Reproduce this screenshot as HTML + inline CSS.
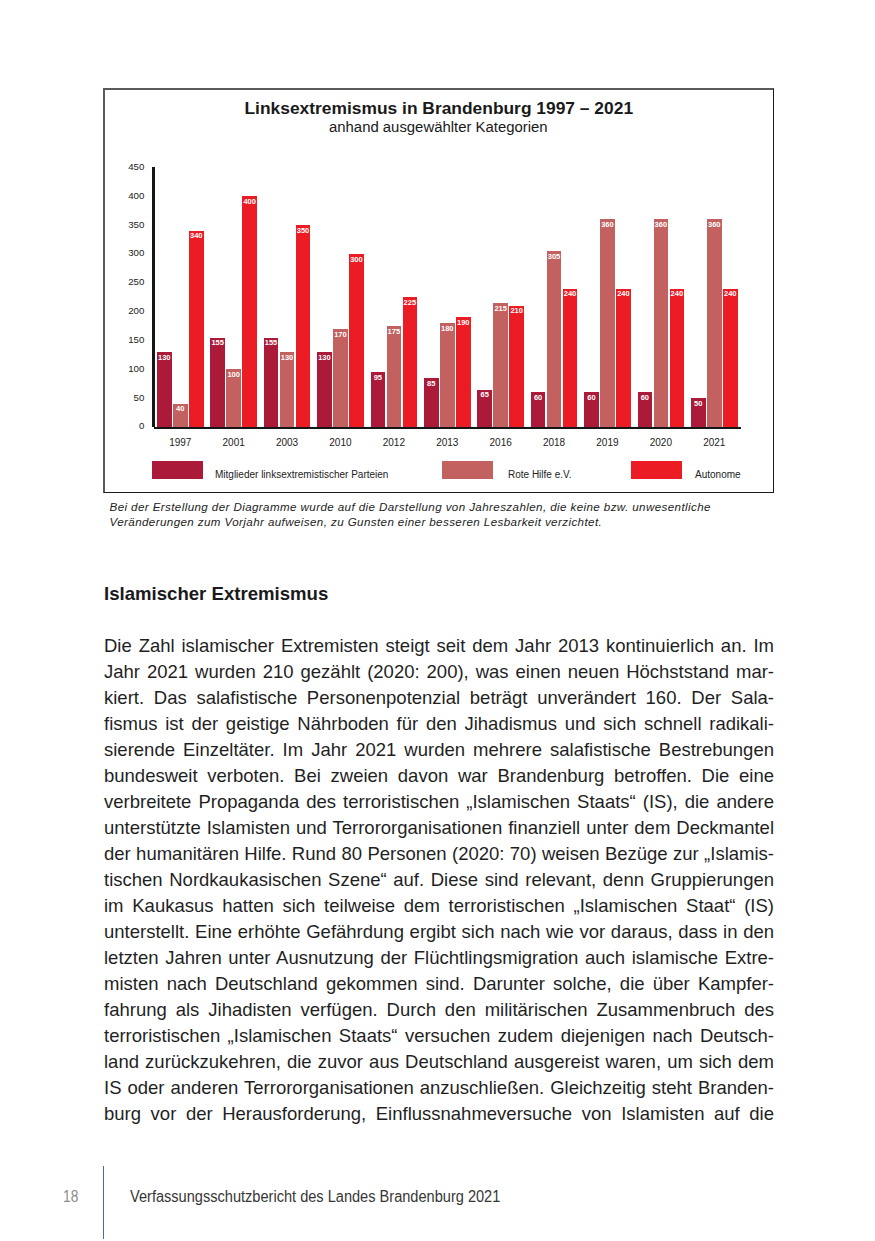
<!DOCTYPE html>
<html lang="de">
<head>
<meta charset="utf-8">
<title>Verfassungsschutzbericht 2021 - Seite 18</title>
<style>
html,body{margin:0;padding:0;background:#fff;}
body{width:875px;height:1241px;position:relative;overflow:hidden;font-family:"Liberation Sans",sans-serif;color:#1f1f1f;}
.abs{position:absolute;white-space:nowrap;}
.bar{position:absolute;}
.b1{background:#ab1a39;}
.b2{background:#c2615f;}
.b3{background:#ec1c24;}
.v{position:absolute;left:0;right:0;text-align:center;font-weight:bold;color:#fff;white-space:nowrap;}
.ln{position:absolute;white-space:nowrap;text-align:justify;text-align-last:justify;}
</style>
</head>
<body>
<div style="position:absolute;left:103px;top:88px;width:667.5px;height:401.5px;border-top:2px solid #5a5a5a;border-left:2px solid #5a5a5a;border-right:1.5px solid #1c1c1c;border-bottom:1.5px solid #1c1c1c;"></div>
<div class="abs " style="left:244.50px;top:97.53px;font-size:17.4px;line-height:20.880px;font-weight:bold;color:#1a1a1a;">Linksextremismus in Brandenburg 1997 – 2021</div>
<div class="abs " style="left:329.00px;top:118.69px;font-size:14.9px;line-height:17.880px;color:#1a1a1a;">anhand ausgewählter Kategorien</div>
<div class="abs " style="left:114.30px;width:30px;text-align:right;top:420.42px;font-size:9.7px;line-height:11.640px;color:#222;">0</div>
<div class="abs " style="left:114.30px;width:30px;text-align:right;top:391.59px;font-size:9.7px;line-height:11.640px;color:#222;">50</div>
<div class="abs " style="left:114.30px;width:30px;text-align:right;top:362.77px;font-size:9.7px;line-height:11.640px;color:#222;">100</div>
<div class="abs " style="left:114.30px;width:30px;text-align:right;top:333.94px;font-size:9.7px;line-height:11.640px;color:#222;">150</div>
<div class="abs " style="left:114.30px;width:30px;text-align:right;top:305.12px;font-size:9.7px;line-height:11.640px;color:#222;">200</div>
<div class="abs " style="left:114.30px;width:30px;text-align:right;top:276.29px;font-size:9.7px;line-height:11.640px;color:#222;">250</div>
<div class="abs " style="left:114.30px;width:30px;text-align:right;top:247.47px;font-size:9.7px;line-height:11.640px;color:#222;">300</div>
<div class="abs " style="left:114.30px;width:30px;text-align:right;top:218.64px;font-size:9.7px;line-height:11.640px;color:#222;">350</div>
<div class="abs " style="left:114.30px;width:30px;text-align:right;top:189.82px;font-size:9.7px;line-height:11.640px;color:#222;">400</div>
<div class="abs " style="left:114.30px;width:30px;text-align:right;top:160.99px;font-size:9.7px;line-height:11.640px;color:#222;">450</div>
<div class="bar b1" style="left:157.00px;top:352.06px;width:14.5px;height:74.95px;"><div class="v" style="top:1.5px;font-size:7.5px;line-height:8px;">130</div></div>
<div class="bar b2" style="left:173.00px;top:403.94px;width:14.5px;height:23.06px;"><div class="v" style="top:1.5px;font-size:7.5px;line-height:8px;">40</div></div>
<div class="bar b3" style="left:189.00px;top:230.99px;width:14.5px;height:196.01px;"><div class="v" style="top:1.5px;font-size:7.5px;line-height:8px;">340</div></div>
<div class="abs " style="left:160.25px;width:40px;text-align:center;top:436.53px;font-size:10px;line-height:12.000px;color:#222;">1997</div>
<div class="bar b1" style="left:210.40px;top:337.64px;width:14.5px;height:89.36px;"><div class="v" style="top:1.5px;font-size:7.5px;line-height:8px;">155</div></div>
<div class="bar b2" style="left:226.40px;top:369.35px;width:14.5px;height:57.65px;"><div class="v" style="top:1.5px;font-size:7.5px;line-height:8px;">100</div></div>
<div class="bar b3" style="left:242.40px;top:196.40px;width:14.5px;height:230.60px;"><div class="v" style="top:1.5px;font-size:7.5px;line-height:8px;">400</div></div>
<div class="abs " style="left:213.65px;width:40px;text-align:center;top:436.53px;font-size:10px;line-height:12.000px;color:#222;">2001</div>
<div class="bar b1" style="left:263.80px;top:337.64px;width:14.5px;height:89.36px;"><div class="v" style="top:1.5px;font-size:7.5px;line-height:8px;">155</div></div>
<div class="bar b2" style="left:279.80px;top:352.06px;width:14.5px;height:74.95px;"><div class="v" style="top:1.5px;font-size:7.5px;line-height:8px;">130</div></div>
<div class="bar b3" style="left:295.80px;top:225.22px;width:14.5px;height:201.78px;"><div class="v" style="top:1.5px;font-size:7.5px;line-height:8px;">350</div></div>
<div class="abs " style="left:267.05px;width:40px;text-align:center;top:436.53px;font-size:10px;line-height:12.000px;color:#222;">2003</div>
<div class="bar b1" style="left:317.20px;top:352.06px;width:14.5px;height:74.95px;"><div class="v" style="top:1.5px;font-size:7.5px;line-height:8px;">130</div></div>
<div class="bar b2" style="left:333.20px;top:329.00px;width:14.5px;height:98.00px;"><div class="v" style="top:1.5px;font-size:7.5px;line-height:8px;">170</div></div>
<div class="bar b3" style="left:349.20px;top:254.05px;width:14.5px;height:172.95px;"><div class="v" style="top:1.5px;font-size:7.5px;line-height:8px;">300</div></div>
<div class="abs " style="left:320.45px;width:40px;text-align:center;top:436.53px;font-size:10px;line-height:12.000px;color:#222;">2010</div>
<div class="bar b1" style="left:370.60px;top:372.23px;width:14.5px;height:54.77px;"><div class="v" style="top:1.5px;font-size:7.5px;line-height:8px;">95</div></div>
<div class="bar b2" style="left:386.60px;top:326.11px;width:14.5px;height:100.89px;"><div class="v" style="top:1.5px;font-size:7.5px;line-height:8px;">175</div></div>
<div class="bar b3" style="left:402.60px;top:297.29px;width:14.5px;height:129.71px;"><div class="v" style="top:1.5px;font-size:7.5px;line-height:8px;">225</div></div>
<div class="abs " style="left:373.85px;width:40px;text-align:center;top:436.53px;font-size:10px;line-height:12.000px;color:#222;">2012</div>
<div class="bar b1" style="left:424.00px;top:378.00px;width:14.5px;height:49.00px;"><div class="v" style="top:1.5px;font-size:7.5px;line-height:8px;">85</div></div>
<div class="bar b2" style="left:440.00px;top:323.23px;width:14.5px;height:103.77px;"><div class="v" style="top:1.5px;font-size:7.5px;line-height:8px;">180</div></div>
<div class="bar b3" style="left:456.00px;top:317.47px;width:14.5px;height:109.53px;"><div class="v" style="top:1.5px;font-size:7.5px;line-height:8px;">190</div></div>
<div class="abs " style="left:427.25px;width:40px;text-align:center;top:436.53px;font-size:10px;line-height:12.000px;color:#222;">2013</div>
<div class="bar b1" style="left:477.40px;top:389.53px;width:14.5px;height:37.47px;"><div class="v" style="top:1.5px;font-size:7.5px;line-height:8px;">65</div></div>
<div class="bar b2" style="left:493.40px;top:303.05px;width:14.5px;height:123.95px;"><div class="v" style="top:1.5px;font-size:7.5px;line-height:8px;">215</div></div>
<div class="bar b3" style="left:509.40px;top:305.94px;width:14.5px;height:121.06px;"><div class="v" style="top:1.5px;font-size:7.5px;line-height:8px;">210</div></div>
<div class="abs " style="left:480.65px;width:40px;text-align:center;top:436.53px;font-size:10px;line-height:12.000px;color:#222;">2016</div>
<div class="bar b1" style="left:530.80px;top:392.41px;width:14.5px;height:34.59px;"><div class="v" style="top:1.5px;font-size:7.5px;line-height:8px;">60</div></div>
<div class="bar b2" style="left:546.80px;top:251.17px;width:14.5px;height:175.83px;"><div class="v" style="top:1.5px;font-size:7.5px;line-height:8px;">305</div></div>
<div class="bar b3" style="left:562.80px;top:288.64px;width:14.5px;height:138.36px;"><div class="v" style="top:1.5px;font-size:7.5px;line-height:8px;">240</div></div>
<div class="abs " style="left:534.05px;width:40px;text-align:center;top:436.53px;font-size:10px;line-height:12.000px;color:#222;">2018</div>
<div class="bar b1" style="left:584.20px;top:392.41px;width:14.5px;height:34.59px;"><div class="v" style="top:1.5px;font-size:7.5px;line-height:8px;">60</div></div>
<div class="bar b2" style="left:600.20px;top:219.46px;width:14.5px;height:207.54px;"><div class="v" style="top:1.5px;font-size:7.5px;line-height:8px;">360</div></div>
<div class="bar b3" style="left:616.20px;top:288.64px;width:14.5px;height:138.36px;"><div class="v" style="top:1.5px;font-size:7.5px;line-height:8px;">240</div></div>
<div class="abs " style="left:587.45px;width:40px;text-align:center;top:436.53px;font-size:10px;line-height:12.000px;color:#222;">2019</div>
<div class="bar b1" style="left:637.60px;top:392.41px;width:14.5px;height:34.59px;"><div class="v" style="top:1.5px;font-size:7.5px;line-height:8px;">60</div></div>
<div class="bar b2" style="left:653.60px;top:219.46px;width:14.5px;height:207.54px;"><div class="v" style="top:1.5px;font-size:7.5px;line-height:8px;">360</div></div>
<div class="bar b3" style="left:669.60px;top:288.64px;width:14.5px;height:138.36px;"><div class="v" style="top:1.5px;font-size:7.5px;line-height:8px;">240</div></div>
<div class="abs " style="left:640.85px;width:40px;text-align:center;top:436.53px;font-size:10px;line-height:12.000px;color:#222;">2020</div>
<div class="bar b1" style="left:691.00px;top:398.18px;width:14.5px;height:28.82px;"><div class="v" style="top:1.5px;font-size:7.5px;line-height:8px;">50</div></div>
<div class="bar b2" style="left:707.00px;top:219.46px;width:14.5px;height:207.54px;"><div class="v" style="top:1.5px;font-size:7.5px;line-height:8px;">360</div></div>
<div class="bar b3" style="left:723.00px;top:288.64px;width:14.5px;height:138.36px;"><div class="v" style="top:1.5px;font-size:7.5px;line-height:8px;">240</div></div>
<div class="abs " style="left:694.25px;width:40px;text-align:center;top:436.53px;font-size:10px;line-height:12.000px;color:#222;">2021</div>
<div style="position:absolute;left:152px;top:167px;width:3px;height:260px;background:#161616;"></div>
<div style="position:absolute;left:154px;top:426.5px;width:587px;height:2.5px;background:#161616;"></div>
<div class="bar b1" style="left:152px;top:461px;width:51px;height:17.5px;"></div>
<div class="abs " style="left:215.00px;top:468.83px;font-size:10px;line-height:12.000px;color:#222;">Mitglieder linksextremistischer Parteien</div>
<div class="bar b2" style="left:442px;top:461px;width:51px;height:17.5px;"></div>
<div class="abs " style="left:508.00px;top:468.83px;font-size:10px;line-height:12.000px;color:#222;">Rote Hilfe e.V.</div>
<div class="bar b3" style="left:631px;top:461px;width:51px;height:17.5px;"></div>
<div class="abs " style="left:695.00px;top:468.83px;font-size:10px;line-height:12.000px;color:#222;">Autonome</div>
<div class="abs " style="left:109.50px;top:500.22px;font-size:11.6px;line-height:13.920px;font-style:italic;letter-spacing:0.4px;color:#222;">Bei der Erstellung der Diagramme wurde auf die Darstellung von Jahreszahlen, die keine bzw. unwesentliche</div>
<div class="abs " style="left:109.50px;top:515.42px;font-size:11.6px;line-height:13.920px;font-style:italic;letter-spacing:0.4px;color:#222;">Veränderungen zum Vorjahr aufweisen, zu Gunsten einer besseren Lesbarkeit verzichtet.</div>
<div class="abs " style="left:104.00px;top:582.59px;font-size:18.6px;line-height:22.320px;font-weight:bold;color:#1a1a1a;">Islamischer Extremismus</div>
<div class="ln" style="left:104px;width:670px;top:632.59px;height:26px;line-height:26px;font-size:18.5px;color:#1f1f1f;">Die Zahl islamischer Extremisten steigt seit dem Jahr 2013 kontinuierlich an. Im</div>
<div class="ln" style="left:104px;width:670px;top:658.59px;height:26px;line-height:26px;font-size:18.5px;color:#1f1f1f;">Jahr 2021 wurden 210 gezählt (2020: 200), was einen neuen Höchststand mar-</div>
<div class="ln" style="left:104px;width:670px;top:684.59px;height:26px;line-height:26px;font-size:18.5px;color:#1f1f1f;">kiert. Das salafistische Personenpotenzial beträgt unverändert 160. Der Sala-</div>
<div class="ln" style="left:104px;width:670px;top:710.59px;height:26px;line-height:26px;font-size:18.5px;color:#1f1f1f;">fismus ist der geistige Nährboden für den Jihadismus und sich schnell radikali-</div>
<div class="ln" style="left:104px;width:670px;top:736.59px;height:26px;line-height:26px;font-size:18.5px;color:#1f1f1f;">sierende Einzeltäter. Im Jahr 2021 wurden mehrere salafistische Bestrebungen</div>
<div class="ln" style="left:104px;width:670px;top:762.59px;height:26px;line-height:26px;font-size:18.5px;color:#1f1f1f;">bundesweit verboten. Bei zweien davon war Brandenburg betroffen. Die eine</div>
<div class="ln" style="left:104px;width:670px;top:788.59px;height:26px;line-height:26px;font-size:18.5px;color:#1f1f1f;">verbreitete Propaganda des terroristischen „Islamischen Staats“ (IS), die andere</div>
<div class="ln" style="left:104px;width:670px;top:814.59px;height:26px;line-height:26px;font-size:18.5px;color:#1f1f1f;">unterstützte Islamisten und Terrororganisationen finanziell unter dem Deckmantel</div>
<div class="ln" style="left:104px;width:670px;top:840.59px;height:26px;line-height:26px;font-size:18.5px;color:#1f1f1f;">der humanitären Hilfe. Rund 80 Personen (2020: 70) weisen Bezüge zur „Islamis-</div>
<div class="ln" style="left:104px;width:670px;top:866.59px;height:26px;line-height:26px;font-size:18.5px;color:#1f1f1f;">tischen Nordkaukasischen Szene“ auf. Diese sind relevant, denn Gruppierungen</div>
<div class="ln" style="left:104px;width:670px;top:892.59px;height:26px;line-height:26px;font-size:18.5px;color:#1f1f1f;">im Kaukasus hatten sich teilweise dem terroristischen „Islamischen Staat“ (IS)</div>
<div class="ln" style="left:104px;width:670px;top:918.59px;height:26px;line-height:26px;font-size:18.5px;color:#1f1f1f;">unterstellt. Eine erhöhte Gefährdung ergibt sich nach wie vor daraus, dass in den</div>
<div class="ln" style="left:104px;width:670px;top:944.59px;height:26px;line-height:26px;font-size:18.5px;color:#1f1f1f;">letzten Jahren unter Ausnutzung der Flüchtlingsmigration auch islamische Extre-</div>
<div class="ln" style="left:104px;width:670px;top:970.59px;height:26px;line-height:26px;font-size:18.5px;color:#1f1f1f;">misten nach Deutschland gekommen sind. Darunter solche, die über Kampfer-</div>
<div class="ln" style="left:104px;width:670px;top:996.59px;height:26px;line-height:26px;font-size:18.5px;color:#1f1f1f;">fahrung als Jihadisten verfügen. Durch den militärischen Zusammenbruch des</div>
<div class="ln" style="left:104px;width:670px;top:1022.59px;height:26px;line-height:26px;font-size:18.5px;color:#1f1f1f;">terroristischen „Islamischen Staats“ versuchen zudem diejenigen nach Deutsch-</div>
<div class="ln" style="left:104px;width:670px;top:1048.59px;height:26px;line-height:26px;font-size:18.5px;color:#1f1f1f;">land zurückzukehren, die zuvor aus Deutschland ausgereist waren, um sich dem</div>
<div class="ln" style="left:104px;width:670px;top:1074.59px;height:26px;line-height:26px;font-size:18.5px;color:#1f1f1f;">IS oder anderen Terrororganisationen anzuschließen. Gleichzeitig steht Branden-</div>
<div class="ln" style="left:104px;width:670px;top:1100.59px;height:26px;line-height:26px;font-size:18.5px;color:#1f1f1f;">burg vor der Herausforderung, Einflussnahmeversuche von Islamisten auf die</div>
<div style="position:absolute;left:103px;top:1166px;width:1px;height:73px;background:#4a6d9c;"></div>
<div class="abs " style="left:63.30px;top:1187.05px;font-size:16px;line-height:19.200px;color:#8c8c8c;transform:scaleX(0.86);transform-origin:0 0;">18</div>
<div class="abs " style="left:130.00px;top:1187.05px;font-size:16px;line-height:19.200px;color:#363636;transform:scaleX(0.911);transform-origin:0 0;">Verfassungsschutzbericht des Landes Brandenburg 2021</div>
</body>
</html>
